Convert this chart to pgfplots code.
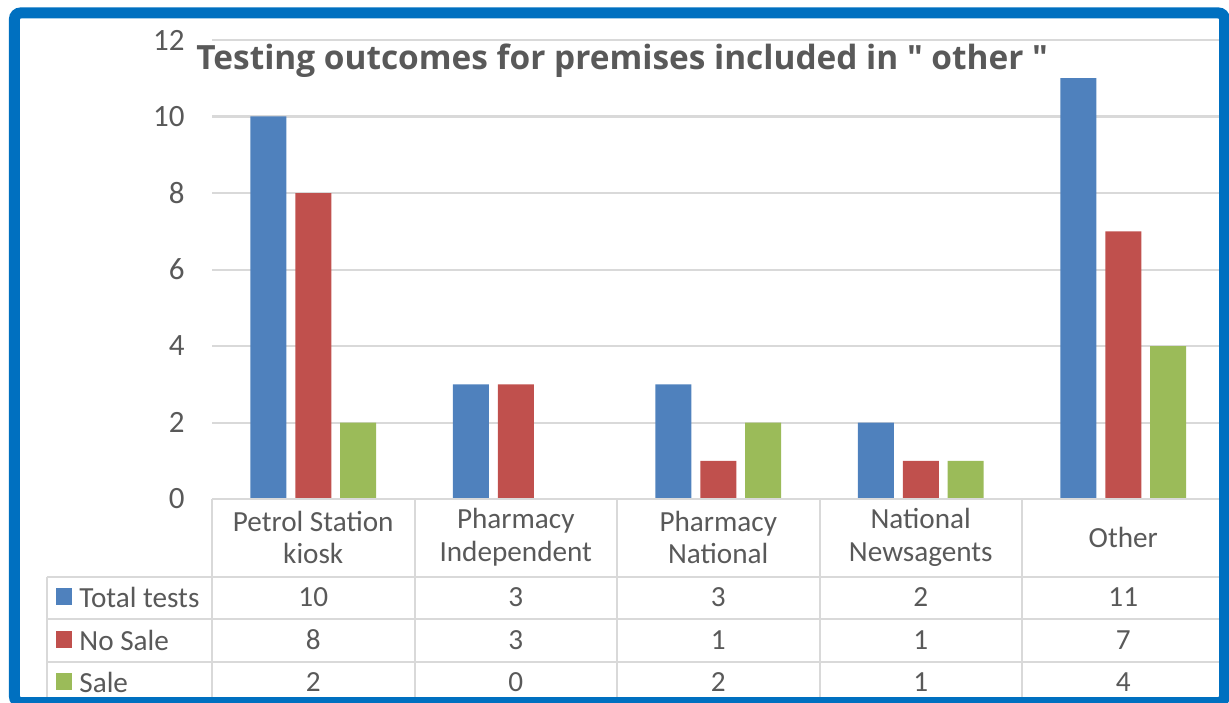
\documentclass[border=0pt]{standalone}
\usepackage{pgfplots}
\pgfplotsset{compat=1.18}
\usepackage{fontspec}
\setmainfont{Carlito}
\newfontfamily\titlefont{Open Sans}
\definecolor{cBlue}{HTML}{4F81BD}
\definecolor{cRed}{HTML}{C0504D}
\definecolor{cGreen}{HTML}{9BBB59}
\definecolor{txt}{HTML}{595959}
\definecolor{gridc}{HTML}{D9D9D9}
\definecolor{framec}{HTML}{0070C0}
\begin{document}
\begin{tikzpicture}
\useasboundingbox (-106pt,249.5pt) rectangle (508.5pt,-101.5pt);
\begin{axis}[
  at={(0,0)}, anchor=south west,
  width=506.25pt, height=229.5pt, scale only axis,
  xmin=-0.5, xmax=4.5, ymin=0, ymax=12,
  ytick={0,2,...,12}, xtick=\empty,
  ymajorgrids, grid style={gridc, line width=1pt},
  axis line style={draw=none},
  tick style={draw=none},
  yticklabel style={font=\fontsize{15.5}{18}\selectfont, text=txt, anchor=east, inner sep=0pt, xshift=-13.5pt},
  /pgf/number format/assume math mode=true,
  clip=false,
  bar width=0.1778,
]
\addplot[ybar, fill=cBlue, draw=none, bar shift=-0.222] coordinates {(0,10) (1,3) (2,3) (3,2) (4,11)};
\addplot[ybar, fill=cRed, draw=none, bar shift=0] coordinates {(0,8) (1,3) (2,1) (3,1) (4,7)};
\addplot[ybar, fill=cGreen, draw=none, bar shift=0.222] coordinates {(0,2) (1,0) (2,2) (3,1) (4,4)};
\end{axis}
\begin{scope}[x=0.5pt, y=-0.5pt, shift={(-106pt,249.5pt)}]
  % table lines
  \draw[gridc, line width=1pt] (212,499) -- (1224.5,499);
  \foreach \yy in {576.5,618.5,661.5} \draw[gridc, line width=1pt] (47,\yy) -- (1224.5,\yy);
  \draw[gridc, line width=1pt] (47,576.5) -- (47,705);
  \foreach \xx in {212,414.5,617,819.5,1022,1224.5} \draw[gridc, line width=1pt] (\xx,499) -- (\xx,705);
  % header labels
  \begin{scope}[every node/.style={text=txt, font=\fontsize{14.6}{16.3}\selectfont, align=center, inner sep=0pt}]
    \node at (313.25,537.5) {Petrol Station\\kiosk};
    \node at (515.75,537.5) {Pharmacy\\Independent};
    \node at (718.25,537.5) {Pharmacy\\National};
    \node at (920.75,537.5) {National\\Newsagents};
    \node at (1123.25,537.5) {Other};
    % values
    \foreach \v [count=\i from 0] in {10,3,3,2,11} \node at (313.25+202.5*\i,597) {\v};
    \foreach \v [count=\i from 0] in {8,3,1,1,7} \node at (313.25+202.5*\i,640) {\v};
    \foreach \v [count=\i from 0] in {2,0,2,1,4} \node at (313.25+202.5*\i,682) {\v};
    % row labels
    \node[anchor=west] at (79,597) {Total tests};
    \node[anchor=west] at (79,640) {No Sale};
    \node[anchor=west] at (79,682) {Sale};
  \end{scope}
  \fill[cBlue] (56,588) rectangle (72,605);
  \fill[cRed] (56,631) rectangle (72,648);
  \fill[cGreen] (56,673) rectangle (72,690);
  % title
  \node[anchor=base west, inner sep=0pt, text=txt, font=\titlefont\bfseries\fontsize{16.7}{19}\selectfont] at (196,70) {Testing outcomes for premises included in " other "};
  % frame
  \draw[framec, line width=5.5pt, rounded corners=3pt] (14.5,13) rectangle (1224.5,702.5);
\end{scope}
\end{tikzpicture}
\end{document}
